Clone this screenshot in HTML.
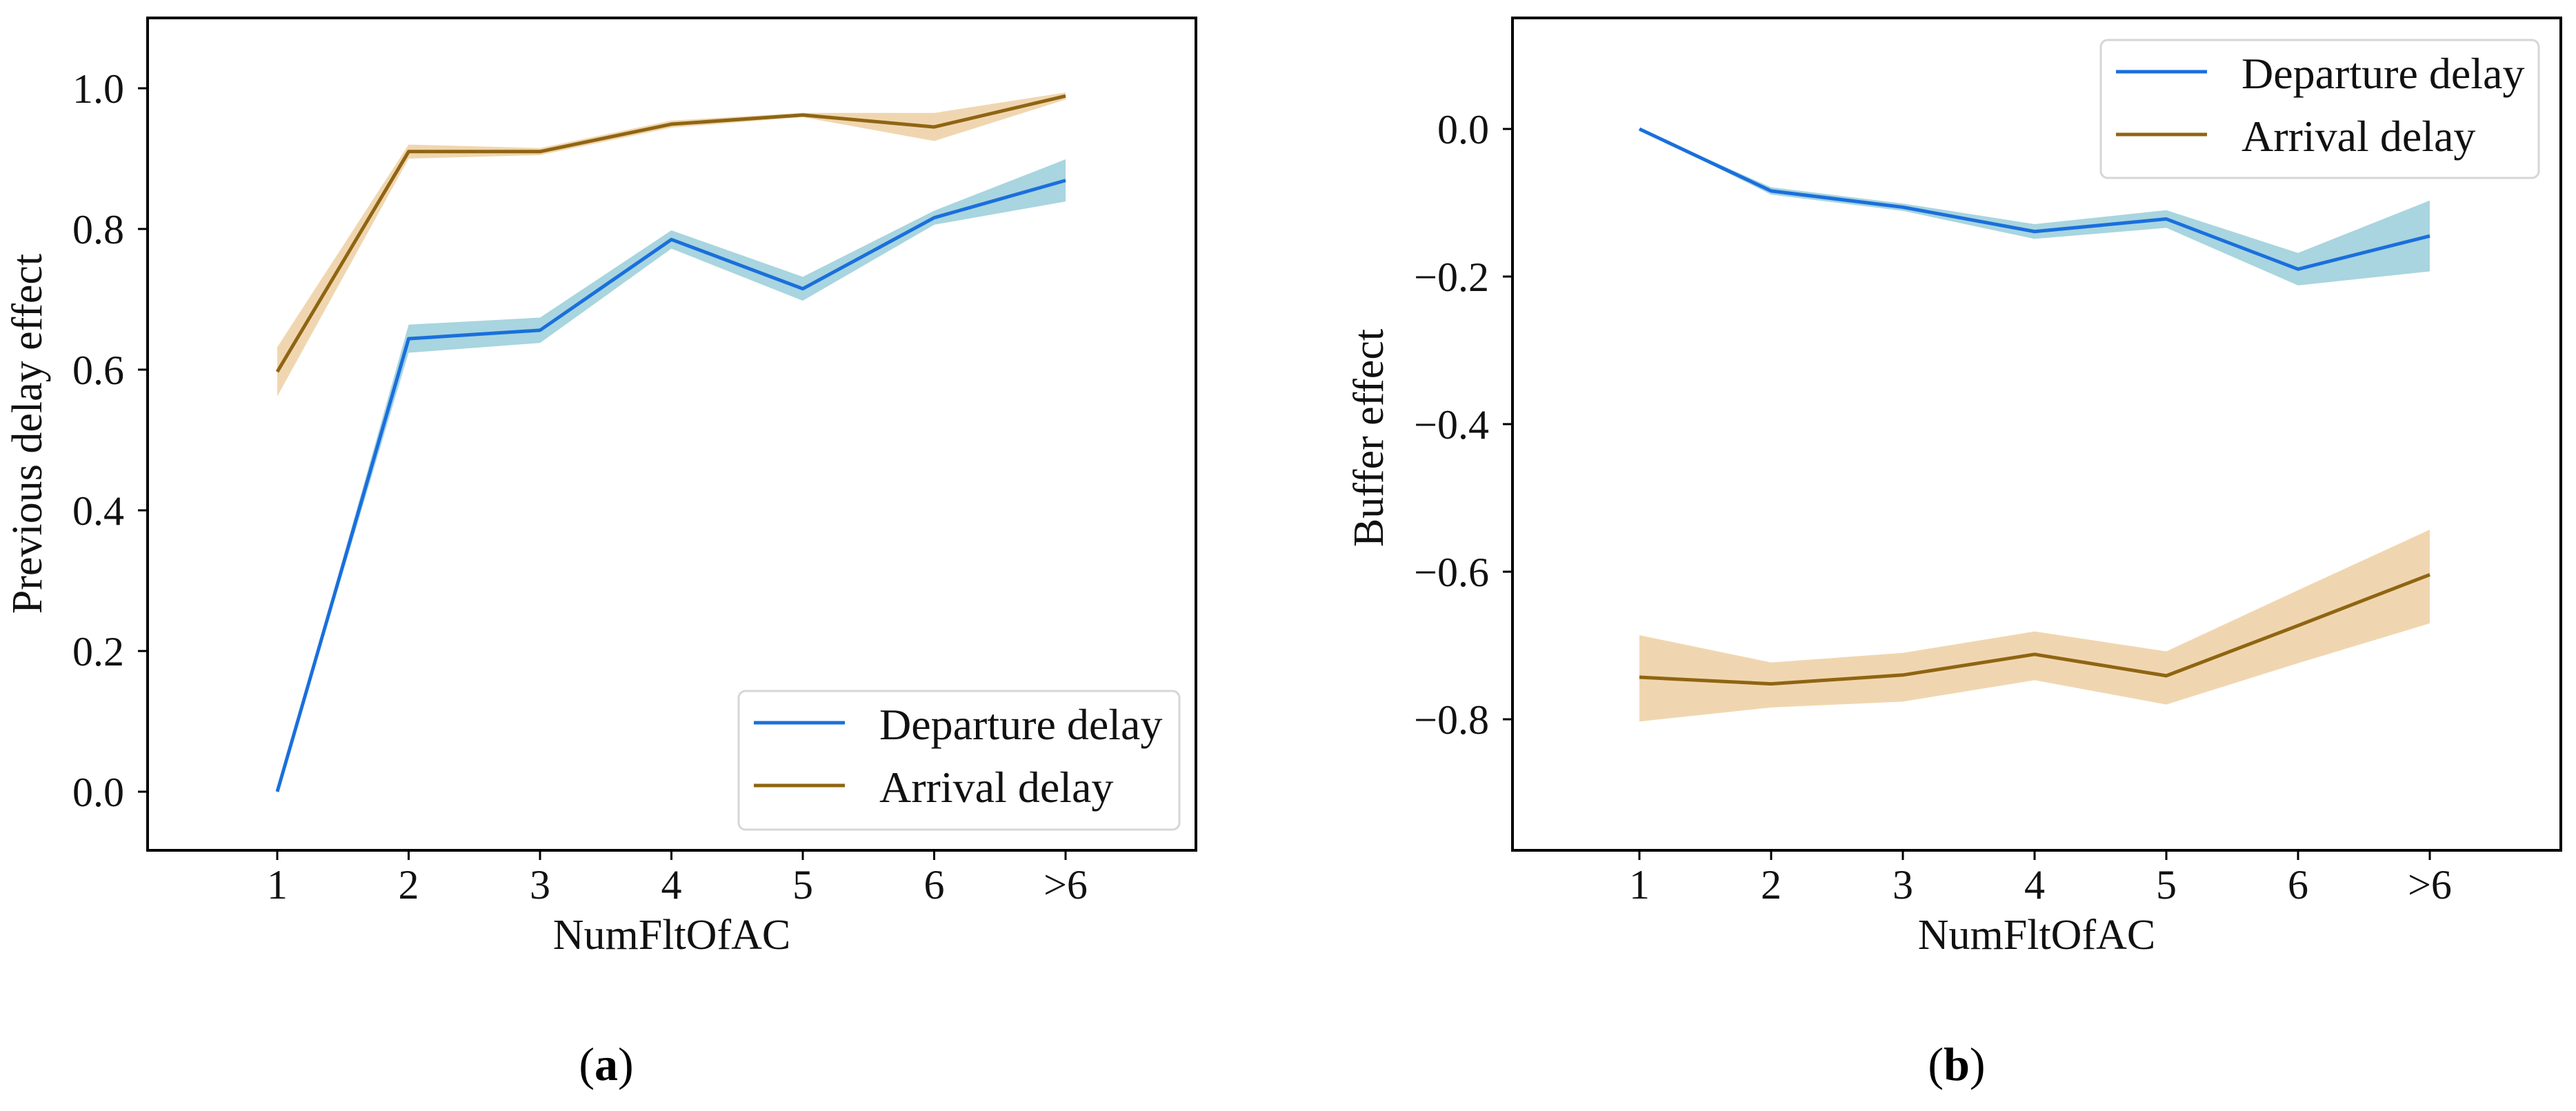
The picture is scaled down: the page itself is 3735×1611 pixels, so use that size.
<!DOCTYPE html>
<html><head><meta charset="utf-8"><style>
html,body{margin:0;padding:0;background:#fff;}
svg{display:block;font-family:"Liberation Serif",serif;}
</style></head><body>
<svg id="fig" width="3735" height="1611" viewBox="0 0 3735 1611">
</svg>
<script>
const categories = ["1","2","3","4","5","6",">6"];
const depA = [0.0, 0.644, 0.656, 0.785, 0.715, 0.816, 0.869];
const depAErr = [0.0, 0.02, 0.018, 0.013, 0.017, 0.01, 0.03];
const arrA = [0.597, 0.91, 0.91, 0.949, 0.962, 0.945, 0.989];
const arrAErr = [0.035, 0.01, 0.005, 0.005, 0.003, 0.02, 0.005];
const depB = [0.0, -0.084, -0.106, -0.139, -0.122, -0.19, -0.145];
const depBLo = [0.0, -0.089, -0.111, -0.149, -0.134, -0.212, -0.193];
const depBHi = [0.0, -0.079, -0.101, -0.129, -0.110, -0.168, -0.097];
const arrB = [-0.743, -0.752, -0.74, -0.712, -0.741, -0.673, -0.604];
const arrBLo = [-0.803, -0.784, -0.776, -0.747, -0.78, -0.724, -0.67];
const arrBHi = [-0.686, -0.723, -0.71, -0.681, -0.708, -0.625, -0.543];
const ticksA = [0.0, 0.2, 0.4, 0.6, 0.8, 1.0];
const tickLabelsA = ["0.0","0.2","0.4","0.6","0.8","1.0"];
const ticksB = [0.0, -0.2, -0.4, -0.6, -0.8];
const tickLabelsB = ["0.0","\u22120.2","\u22120.4","\u22120.6","\u22120.8"];

const NS = "http://www.w3.org/2000/svg";
const svg = document.getElementById("fig");
function mk(tag, attrs, parent, text){
  const e = document.createElementNS(NS, tag);
  for (const k in attrs) e.setAttribute(k, attrs[k]);
  if (text !== undefined) e.textContent = text;
  (parent || svg).appendChild(e);
  return e;
}
const BLUE="#1a6fdc", BLUEB="rgba(110,185,202,0.6)", BROWN="#8f6512", BROWNB="rgba(228,180,112,0.55)";

function panel(cfg){
  const g = mk("g", {});
  
  
  const {L,R,T,B,x0,dx,y0v,y0,ppu} = cfg;
  const X = i => x0 + i*dx;
  const Y = v => y0 - (v - y0v)*ppu;
  // bands
  function band(lo, hi, fill, nm){
    let d = "M" + categories.map((c,i)=>X(i)+","+Y(hi[i])).join(" L");
    for (let i=categories.length-1;i>=0;i--) d += " L"+X(i)+","+Y(lo[i]);
    const p = mk("path", {d:d+"Z", fill:fill, stroke:"none"}, g);
    
    
  }
  function line(vals, col, nm){
    const p = mk("polyline", {points: vals.map((v,i)=>X(i)+","+Y(v)).join(" "), fill:"none", stroke:col, "stroke-width":5, "stroke-linejoin":"round"}, g);
    
    
  }
  band(cfg.dLo, cfg.dHi, BLUEB, "departure-band");
  band(cfg.aLo, cfg.aHi, BROWNB, "arrival-band");
  line(cfg.dep, BLUE, "departure-line");
  line(cfg.arr, BROWN, "arrival-line");
  // frame
  const fr = mk("rect", {x:L, y:T, width:R-L, height:B-T, fill:"none", stroke:"#000", "stroke-width":4}, g);
  
  
  // y ticks
  cfg.ticks.forEach((v,i)=>{
    mk("line", {x1:L-14, x2:L, y1:Y(v), y2:Y(v), stroke:"#000", "stroke-width":3}, g);
    const t = mk("text", {x:L-34, y:Y(v)+21, "text-anchor":"end", "font-size":60, fill:"#111"}, g, cfg.tickLabels[i]);
    
    
  });
  // x ticks
  categories.forEach((c,i)=>{
    mk("line", {x1:X(i), x2:X(i), y1:B, y2:B+14, stroke:"#000", "stroke-width":3}, g);
    const t = mk("text", {x:X(i), y:B+70, "text-anchor":"middle", "font-size":60, fill:"#111"}, g, c);
    
    
  });
  const xl = mk("text", {x:(L+R)/2, y:1376, "text-anchor":"middle", "font-size":62, fill:"#111"}, g, "NumFltOfAC");
  
  
  const yl = mk("text", {x:0, y:0, "text-anchor":"middle", "font-size":62, fill:"#111", transform:"translate("+(cfg.ylx)+","+cfg.yly+") rotate(-90)"}, g, cfg.ylabel);
  
  
  // legend
  const lg = cfg.leg;
  const lgG = mk("g", {}, g);
  
  
  mk("rect", {x:lg.x, y:lg.y, width:lg.w, height:lg.h, rx:10, fill:"#fff", stroke:"#d6d6d6", "stroke-width":3}, lgG);
  [["Departure delay",BLUE,"legend-entry-departure"],["Arrival delay",BROWN,"legend-entry-arrival"]].forEach((e,k)=>{
    const ly = lg.y + 46 + k*91;
    const eg = mk("g", {}, lgG);
    
    
    mk("line", {x1:lg.x+22, x2:lg.x+154, y1:ly, y2:ly, stroke:e[1], "stroke-width":5}, eg);
    mk("text", {x:lg.x+204, y:ly+24, "font-size":64, fill:"#111"}, eg, e[0]);
  });
  const cap = mk("text", {x:cfg.capx, y:1566, "text-anchor":"middle", "font-size":68, fill:"#000"}, g);
  
  
  mk("tspan", {}, cap, "(");
  mk("tspan", {"font-weight":"bold"}, cap, cfg.cap);
  mk("tspan", {}, cap, ")");
}

panel({name:"panel-a", L:214, R:1734, T:26, B:1233, x0:402, dx:190.5, y0v:0, y0:1148, ppu:1020,
  dep:depA, dLo:depA.map((v,i)=>v-depAErr[i]), dHi:depA.map((v,i)=>v+depAErr[i]),
  arr:arrA, aLo:arrA.map((v,i)=>v-arrAErr[i]), aHi:arrA.map((v,i)=>v+arrAErr[i]),
  ticks:ticksA, tickLabels:tickLabelsA, ylabel:"Previous delay effect", ylx:60, yly:629,
  leg:{x:1071,y:1002,w:639,h:201}, capx:879, cap:"a"});

panel({name:"panel-b", L:2193, R:3713, T:26, B:1233, x0:2377, dx:191, y0v:0, y0:187, ppu:1070,
  dep:depB, dLo:depBLo, dHi:depBHi, arr:arrB, aLo:arrBLo, aHi:arrBHi,
  ticks:ticksB, tickLabels:tickLabelsB, ylabel:"Buffer effect", ylx:2005, yly:635,
  leg:{x:3046,y:58,w:635,h:200}, capx:2837, cap:"b"});
</script>
</body></html>
